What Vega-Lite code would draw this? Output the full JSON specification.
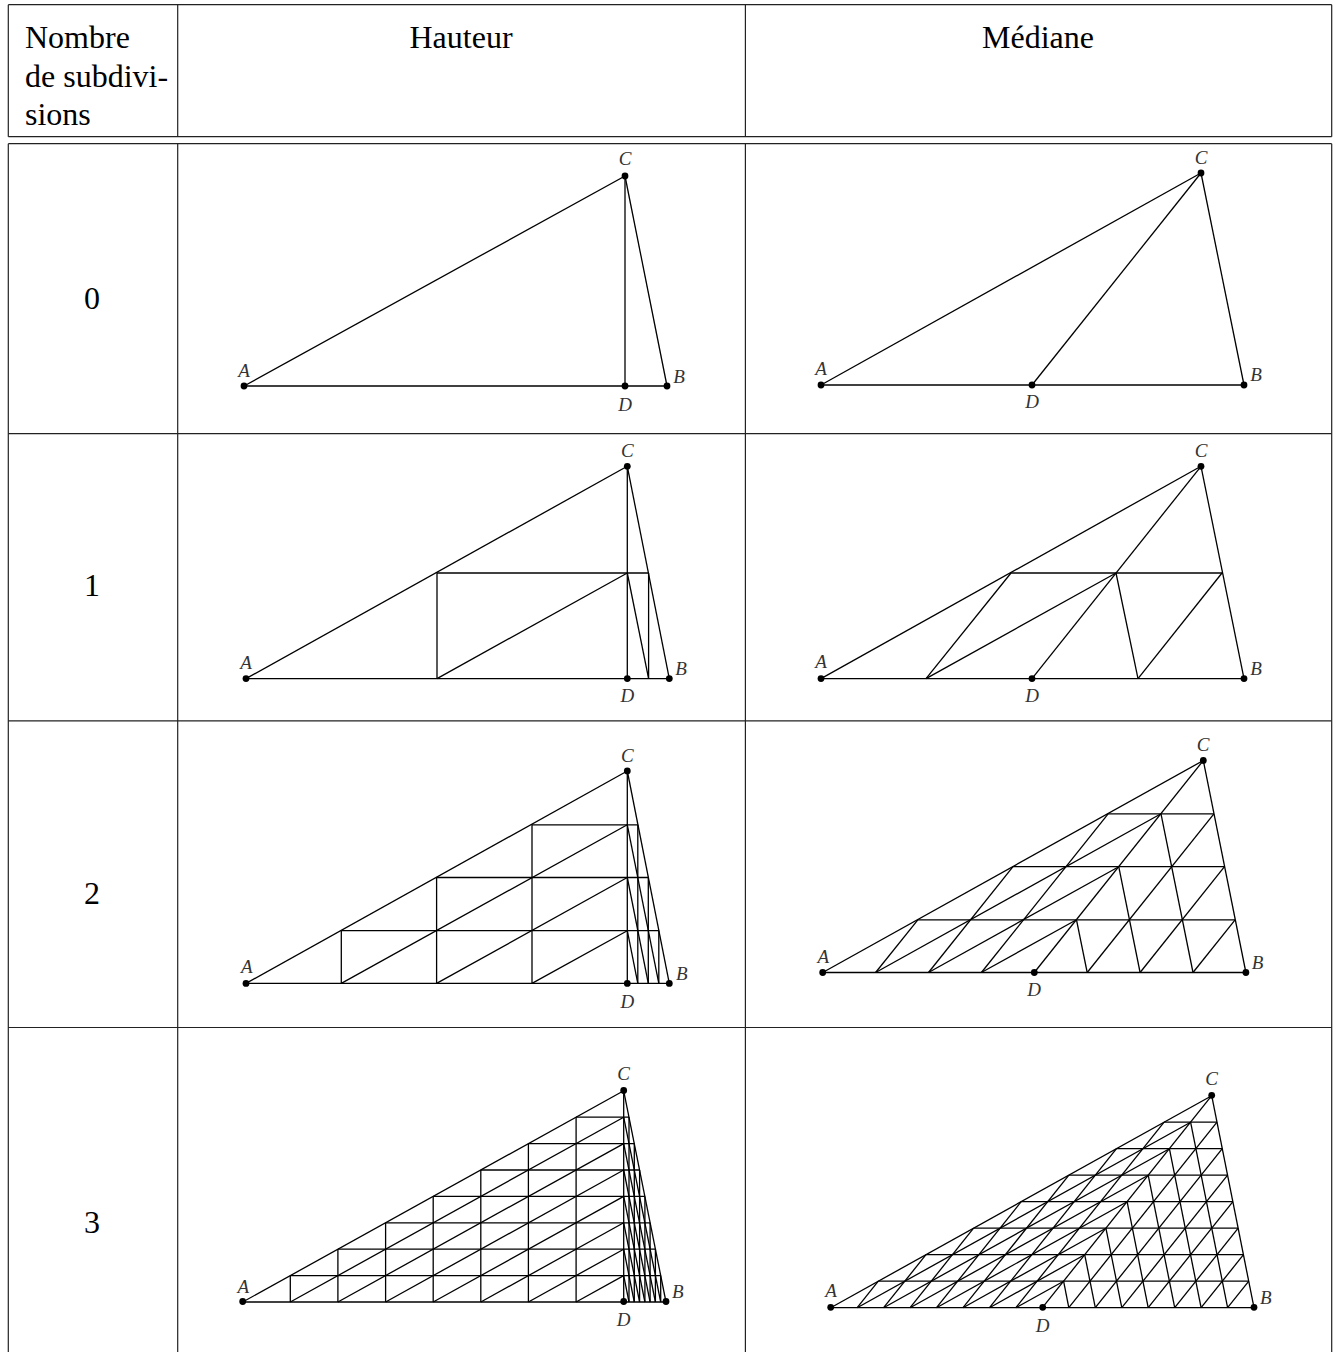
{"$schema":"https://vega.github.io/schema/vega-lite/v6.json","width":1333,"height":1352,"padding":0,"autosize":"none","background":"white","config":{"view":{"stroke":null},"axis":{"disable":true},"legend":{"disable":true}},
"datasets":{
"table":[
{"x":8.3,"y":4.7,"x2":1331.7,"y2":4.7},{"x":8.3,"y":136.7,"x2":1331.7,"y2":136.7},{"x":8.3,"y":143.7,"x2":1331.7,"y2":143.7},{"x":8.3,"y":433.6,"x2":1331.7,"y2":433.6},{"x":8.3,"y":720.8,"x2":1331.7,"y2":720.8},{"x":8.3,"y":1027.5,"x2":1331.7,"y2":1027.5},
{"x":8.3,"y":4.7,"x2":8.3,"y2":136.7},{"x":177.7,"y":4.7,"x2":177.7,"y2":136.7},{"x":745.4,"y":4.7,"x2":745.4,"y2":136.7},{"x":1331.7,"y":4.7,"x2":1331.7,"y2":136.7},
{"x":8.3,"y":143.7,"x2":8.3,"y2":1352},{"x":177.7,"y":143.7,"x2":177.7,"y2":1352},{"x":745.4,"y":143.7,"x2":745.4,"y2":1352},{"x":1331.7,"y":143.7,"x2":1331.7,"y2":1352}],
"seg":[
{"x":244,"y":386,"x2":667,"y2":386},{"x":244,"y":386,"x2":625,"y2":176},{"x":625,"y":176,"x2":667,"y2":386},{"x":625,"y":176,"x2":625,"y2":386},
{"x":821,"y":385,"x2":1244,"y2":385},{"x":821,"y":385,"x2":1201,"y2":173},{"x":1201,"y":173,"x2":1244,"y2":385},{"x":1201,"y":173,"x2":1032,"y2":385},
{"x":246,"y":678.6,"x2":669.3,"y2":678.6},{"x":246,"y":678.6,"x2":627.3,"y2":466.3},{"x":627.3,"y":466.3,"x2":669.3,"y2":678.6},{"x":627.3,"y":466.3,"x2":627.3,"y2":678.6},
{"x":437,"y":573,"x2":648.6,"y2":573},{"x":437,"y":573,"x2":437,"y2":678.6},{"x":437,"y":678.6,"x2":627.3,"y2":573},{"x":627.3,"y":573,"x2":648.6,"y2":678.6},{"x":648.6,"y":573,"x2":648.6,"y2":678.6},
{"x":821,"y":678.6,"x2":1244,"y2":678.6},{"x":821,"y":678.6,"x2":1201,"y2":466.3},{"x":1201,"y":466.3,"x2":1244,"y2":678.6},{"x":1201,"y":466.3,"x2":1032,"y2":678.6},
{"x":1011,"y":573,"x2":1222,"y2":573},{"x":926,"y":678.6,"x2":1011,"y2":573},{"x":926,"y":678.6,"x2":1116,"y2":573},{"x":1116,"y":573,"x2":1138,"y2":678.6},{"x":1138,"y":678.6,"x2":1222,"y2":573},
{"x":246,"y":983.4,"x2":669.3,"y2":983.4},{"x":246,"y":983.4,"x2":627.3,"y2":771},{"x":627.3,"y":771,"x2":669.3,"y2":983.4},{"x":627.3,"y":771,"x2":627.3,"y2":983.4},
{"x":341.3,"y":930.7,"x2":658.8,"y2":930.7},{"x":436.6,"y":877.5,"x2":648.3,"y2":877.5},{"x":532,"y":824.8,"x2":637.8,"y2":824.8},
{"x":341.3,"y":930.7,"x2":341.3,"y2":983.4},{"x":436.6,"y":877.5,"x2":436.6,"y2":983.4},{"x":532,"y":824.8,"x2":532,"y2":983.4},{"x":637.8,"y":824.8,"x2":637.8,"y2":983.4},{"x":648.3,"y":877.5,"x2":648.3,"y2":983.4},{"x":658.8,"y":930.7,"x2":658.8,"y2":983.4},
{"x":341.3,"y":983.4,"x2":627.3,"y2":824.8},{"x":436.6,"y":983.4,"x2":627.3,"y2":877.5},{"x":532,"y":983.4,"x2":627.3,"y2":930.7},
{"x":627.3,"y":824.8,"x2":658.8,"y2":983.4},{"x":627.3,"y":877.5,"x2":648.3,"y2":983.4},{"x":627.3,"y":930.7,"x2":637.8,"y2":983.4},
{"x":822.7,"y":972.5,"x2":1245.9,"y2":972.5},{"x":822.7,"y":972.5,"x2":1203.3,"y2":760.5},{"x":1203.3,"y":760.5,"x2":1245.9,"y2":972.5},
{"x":917.85,"y":919.8,"x2":1235.1,"y2":919.8},{"x":1013,"y":866.7,"x2":1224.5,"y2":866.7},{"x":1108.15,"y":813.8,"x2":1213.9,"y2":813.8},
{"x":875.6,"y":972.5,"x2":917.85,"y2":919.8},{"x":928.5,"y":972.5,"x2":1013,"y2":866.7},{"x":981.4,"y":972.5,"x2":1108.15,"y2":813.8},{"x":1034.3,"y":972.5,"x2":1203.3,"y2":760.5},{"x":1087.2,"y":972.5,"x2":1213.9,"y2":813.8},{"x":1140.1,"y":972.5,"x2":1224.5,"y2":866.7},{"x":1193,"y":972.5,"x2":1235.1,"y2":919.8},
{"x":875.6,"y":972.5,"x2":1161,"y2":813.8},{"x":928.5,"y":972.5,"x2":1118.75,"y2":866.7},{"x":981.4,"y":972.5,"x2":1076.5,"y2":919.8},
{"x":1161,"y":813.8,"x2":1193,"y2":972.5},{"x":1118.75,"y":866.7,"x2":1140.1,"y2":972.5},{"x":1076.5,"y":919.8,"x2":1087.2,"y2":972.5},
{"x":242.7,"y":1302,"x2":666,"y2":1302},{"x":242.7,"y":1302,"x2":623.7,"y2":1090.8},{"x":623.7,"y":1090.8,"x2":666,"y2":1302},{"x":623.7,"y":1090.8,"x2":623.7,"y2":1302},
{"x":290.3,"y":1275.6,"x2":660.7,"y2":1275.6},{"x":337.9,"y":1249.2,"x2":655.4,"y2":1249.2},{"x":385.6,"y":1222.8,"x2":650.1,"y2":1222.8},{"x":433.2,"y":1196.4,"x2":644.9,"y2":1196.4},{"x":480.8,"y":1170,"x2":639.6,"y2":1170},{"x":528.4,"y":1143.6,"x2":634.3,"y2":1143.6},{"x":576.1,"y":1117.2,"x2":629,"y2":1117.2},
{"x":290.3,"y":1275.6,"x2":290.3,"y2":1302},{"x":337.9,"y":1249.2,"x2":337.9,"y2":1302},{"x":385.6,"y":1222.8,"x2":385.6,"y2":1302},{"x":433.2,"y":1196.4,"x2":433.2,"y2":1302},{"x":480.8,"y":1170,"x2":480.8,"y2":1302},{"x":528.4,"y":1143.6,"x2":528.4,"y2":1302},{"x":576.1,"y":1117.2,"x2":576.1,"y2":1302},
{"x":629,"y":1117.2,"x2":629,"y2":1302},{"x":634.3,"y":1143.6,"x2":634.3,"y2":1302},{"x":639.6,"y":1170,"x2":639.6,"y2":1302},{"x":644.9,"y":1196.4,"x2":644.9,"y2":1302},{"x":650.1,"y":1222.8,"x2":650.1,"y2":1302},{"x":655.4,"y":1249.2,"x2":655.4,"y2":1302},{"x":660.7,"y":1275.6,"x2":660.7,"y2":1302},
{"x":290.3,"y":1302,"x2":623.7,"y2":1117.2},{"x":337.9,"y":1302,"x2":623.7,"y2":1143.6},{"x":385.6,"y":1302,"x2":623.7,"y2":1170},{"x":433.2,"y":1302,"x2":623.7,"y2":1196.4},{"x":480.8,"y":1302,"x2":623.7,"y2":1222.8},{"x":528.4,"y":1302,"x2":623.7,"y2":1249.2},{"x":576.1,"y":1302,"x2":623.7,"y2":1275.6},
{"x":623.7,"y":1117.2,"x2":660.7,"y2":1302},{"x":623.7,"y":1143.6,"x2":655.4,"y2":1302},{"x":623.7,"y":1170,"x2":650.1,"y2":1302},{"x":623.7,"y":1196.4,"x2":644.9,"y2":1302},{"x":623.7,"y":1222.8,"x2":639.6,"y2":1302},{"x":623.7,"y":1249.2,"x2":634.3,"y2":1302},{"x":623.7,"y":1275.6,"x2":629,"y2":1302},
{"x":830.7,"y":1307.7,"x2":1254,"y2":1307.7},{"x":830.7,"y":1307.7,"x2":1211.7,"y2":1095.7},{"x":1211.7,"y":1095.7,"x2":1254,"y2":1307.7},
{"x":878.3,"y":1281.2,"x2":1248.8,"y2":1281.2},{"x":926,"y":1254.7,"x2":1243.5,"y2":1254.7},{"x":973.6,"y":1228.2,"x2":1238.2,"y2":1228.2},{"x":1021.2,"y":1201.7,"x2":1232.9,"y2":1201.7},{"x":1068.9,"y":1175.2,"x2":1227.6,"y2":1175.2},{"x":1116.5,"y":1148.7,"x2":1222.3,"y2":1148.7},{"x":1164.1,"y":1122.2,"x2":1217,"y2":1122.2},
{"x":857.2,"y":1307.7,"x2":878.3,"y2":1281.2},{"x":883.6,"y":1307.7,"x2":926,"y2":1254.7},{"x":910.1,"y":1307.7,"x2":973.6,"y2":1228.2},{"x":936.5,"y":1307.7,"x2":1021.2,"y2":1201.7},{"x":963,"y":1307.7,"x2":1068.9,"y2":1175.2},{"x":989.5,"y":1307.7,"x2":1116.5,"y2":1148.7},{"x":1015.9,"y":1307.7,"x2":1164.1,"y2":1122.2},{"x":1042.4,"y":1307.7,"x2":1211.7,"y2":1095.7},
{"x":1068.8,"y":1307.7,"x2":1217,"y2":1122.2},{"x":1095.3,"y":1307.7,"x2":1222.3,"y2":1148.7},{"x":1121.8,"y":1307.7,"x2":1227.6,"y2":1175.2},{"x":1148.2,"y":1307.7,"x2":1232.9,"y2":1201.7},{"x":1174.7,"y":1307.7,"x2":1238.2,"y2":1228.2},{"x":1201.1,"y":1307.7,"x2":1243.5,"y2":1254.7},{"x":1227.6,"y":1307.7,"x2":1248.8,"y2":1281.2},
{"x":857.2,"y":1307.7,"x2":1190.6,"y2":1122.2},{"x":883.6,"y":1307.7,"x2":1169.4,"y2":1148.7},{"x":910.1,"y":1307.7,"x2":1148.2,"y2":1175.2},{"x":936.5,"y":1307.7,"x2":1127.1,"y2":1201.7},{"x":963,"y":1307.7,"x2":1105.9,"y2":1228.2},{"x":989.5,"y":1307.7,"x2":1084.7,"y2":1254.7},{"x":1015.9,"y":1307.7,"x2":1063.6,"y2":1281.2},
{"x":1190.6,"y":1122.2,"x2":1227.6,"y2":1307.7},{"x":1169.4,"y":1148.7,"x2":1201.1,"y2":1307.7},{"x":1148.2,"y":1175.2,"x2":1174.7,"y2":1307.7},{"x":1127.1,"y":1201.7,"x2":1148.2,"y2":1307.7},{"x":1105.9,"y":1228.2,"x2":1121.8,"y2":1307.7},{"x":1084.7,"y":1254.7,"x2":1095.3,"y2":1307.7},{"x":1063.6,"y":1281.2,"x2":1068.8,"y2":1307.7}],
"dots":[
{"x":244,"y":386},{"x":667,"y":386},{"x":625,"y":176},{"x":625,"y":386},
{"x":821,"y":385},{"x":1244,"y":385},{"x":1201,"y":173},{"x":1032,"y":385},
{"x":246,"y":678.6},{"x":669.3,"y":678.6},{"x":627.3,"y":466.3},{"x":627.3,"y":678.6},
{"x":821,"y":678.6},{"x":1244,"y":678.6},{"x":1201,"y":466.3},{"x":1032,"y":678.6},
{"x":246,"y":983.4},{"x":669.3,"y":983.4},{"x":627.3,"y":771},{"x":627.3,"y":983.4},
{"x":822.7,"y":972.5},{"x":1245.9,"y":972.5},{"x":1203.3,"y":760.5},{"x":1034.3,"y":972.5},
{"x":242.7,"y":1301.5},{"x":666,"y":1301.5},{"x":623.7,"y":1090.5},{"x":623.7,"y":1301.5},
{"x":830.7,"y":1307.3},{"x":1254,"y":1307.3},{"x":1211.7,"y":1095.3},{"x":1042.7,"y":1307.3}],
"points":[
{"t":"A","x":244,"y":371},{"t":"B","x":679,"y":377},{"t":"C","x":625,"y":159},{"t":"D","x":625,"y":405},
{"t":"A","x":821,"y":369},{"t":"B","x":1256,"y":375},{"t":"C","x":1201,"y":158},{"t":"D","x":1032,"y":402},
{"t":"A","x":246,"y":662.5},{"t":"B","x":681,"y":668.7},{"t":"C","x":627.3,"y":450.7},{"t":"D","x":627.3,"y":696},
{"t":"A","x":821,"y":662},{"t":"B","x":1256,"y":668.7},{"t":"C","x":1201,"y":450.7},{"t":"D","x":1032,"y":696},
{"t":"A","x":246.7,"y":967},{"t":"B","x":681.7,"y":974},{"t":"C","x":627.3,"y":755.5},{"t":"D","x":627.3,"y":1001.5},
{"t":"A","x":823.3,"y":956.7},{"t":"B","x":1257.5,"y":963},{"t":"C","x":1203,"y":745},{"t":"D","x":1034,"y":990},
{"t":"A","x":243.3,"y":1286.5},{"t":"B","x":677.7,"y":1292.3},{"t":"C","x":623.7,"y":1074},{"t":"D","x":623.7,"y":1320},
{"t":"A","x":831,"y":1291},{"t":"B","x":1265.7,"y":1297.7},{"t":"C","x":1211.7,"y":1079.3},{"t":"D","x":1042.7,"y":1325.5}],
"left":[{"t":"Nombre","x":25,"y":48},{"t":"de subdivi-","x":25,"y":87},{"t":"sions","x":25,"y":125}],
"center":[{"t":"Hauteur","x":461,"y":48},{"t":"Médiane","x":1038,"y":48},{"t":"0","x":92,"y":309},{"t":"1","x":92,"y":596},{"t":"2","x":92,"y":904},{"t":"3","x":92,"y":1233}]},
"encoding":{"x":{"field":"x","type":"quantitative","scale":{"domain":[0,1333],"nice":false,"zero":false}},"y":{"field":"y","type":"quantitative","scale":{"domain":[0,1352],"reverse":true,"nice":false,"zero":false}}},
"layer":[
{"data":{"name":"table"},"mark":{"type":"rule","stroke":"#222222","strokeWidth":1.2,"clip":true},"encoding":{"x2":{"field":"x2"},"y2":{"field":"y2"}}},
{"data":{"name":"seg"},"mark":{"type":"rule","stroke":"#000000","strokeWidth":1.3},"encoding":{"x2":{"field":"x2"},"y2":{"field":"y2"}}},
{"data":{"name":"dots"},"mark":{"type":"point","filled":true,"shape":"circle","size":46,"color":"#000000","opacity":1}},
{"data":{"name":"points"},"mark":{"type":"text","font":"Liberation Serif","fontStyle":"italic","fontSize":19,"align":"center","baseline":"middle","color":"#333333"},"encoding":{"text":{"field":"t"}}},
{"data":{"name":"left"},"mark":{"type":"text","font":"Liberation Serif","fontSize":32,"align":"left","baseline":"alphabetic","color":"#000000"},"encoding":{"text":{"field":"t"}}},
{"data":{"name":"center"},"mark":{"type":"text","font":"Liberation Serif","fontSize":32,"align":"center","baseline":"alphabetic","color":"#000000"},"encoding":{"text":{"field":"t"}}}
]}
